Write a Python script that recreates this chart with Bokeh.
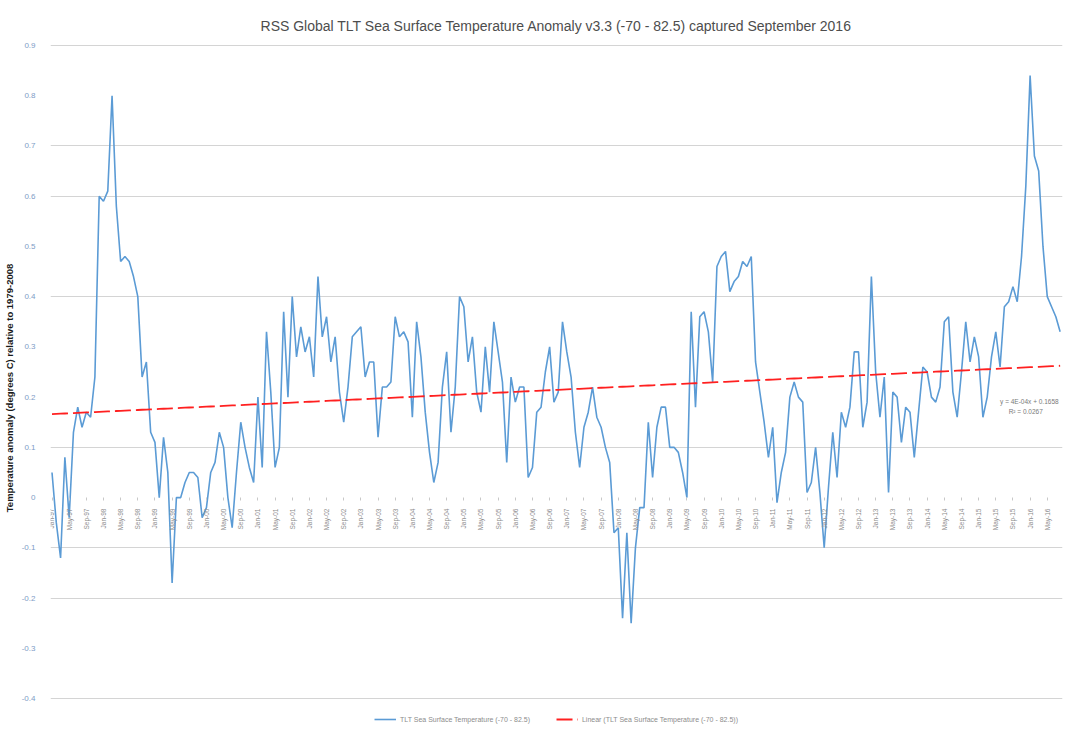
import numpy as np
from bokeh.plotting import figure
from bokeh.models import (ColumnDataSource, LinearAxis, FixedTicker, Grid, Legend, LegendItem,
                          Label, Title, Range1d, CustomJSTickFormatter)
from bokeh.embed import file_html
from bokeh.resources import INLINE

TITLE = "RSS Global TLT Sea Surface Temperature Anomaly v3.3 (-70 - 82.5) captured September 2016"
Y_LABEL = "Temperature anomaly (degrees C) relative to 1979-2008"
SERIES_NAME = "TLT Sea Surface Temperature (-70 - 82.5)"
TREND_NAME = "Linear (TLT Sea Surface Temperature (-70 - 82.5))"

# Monthly anomaly, Jan 1997 .. Aug 2016
anomaly = [
    0.05, -0.05, -0.12, 0.08, -0.04, 0.13, 0.18, 0.14, 0.17, 0.16, 0.24, 0.60,
    0.59, 0.61, 0.80, 0.58, 0.47, 0.48, 0.47, 0.44, 0.40, 0.24, 0.27, 0.13,
    0.11, 0.00, 0.12, 0.05, -0.17, 0.00, 0.00, 0.03, 0.05, 0.05, 0.04, -0.04,
    -0.02, 0.05, 0.07, 0.13, 0.10, 0.00, -0.06, 0.05, 0.15, 0.10, 0.06, 0.03,
    0.20, 0.06, 0.33, 0.21, 0.06, 0.10, 0.37, 0.20, 0.40, 0.28, 0.34, 0.29,
    0.32, 0.24, 0.44, 0.32, 0.36, 0.27, 0.32, 0.21, 0.15, 0.22, 0.32, 0.33,
    0.34, 0.24, 0.27, 0.27, 0.12, 0.22, 0.22, 0.23, 0.36, 0.32, 0.33, 0.31,
    0.16, 0.35, 0.28, 0.17, 0.09, 0.03, 0.07, 0.22, 0.29, 0.13, 0.22, 0.40,
    0.38, 0.27, 0.32, 0.21, 0.17, 0.30, 0.21, 0.35, 0.29, 0.23, 0.07, 0.24,
    0.19, 0.22, 0.22, 0.04, 0.06, 0.17, 0.18, 0.25, 0.30, 0.19, 0.21, 0.35,
    0.29, 0.24, 0.13, 0.06, 0.14, 0.17, 0.22, 0.16, 0.14, 0.10, 0.07, -0.07,
    -0.06, -0.24, -0.07, -0.25, -0.10, -0.02, -0.02, 0.15, 0.04, 0.14, 0.18, 0.18,
    0.10, 0.10, 0.09, 0.05, 0.00, 0.37, 0.18, 0.36, 0.37, 0.33, 0.23, 0.46,
    0.48, 0.49, 0.41, 0.43, 0.44, 0.47, 0.46, 0.48, 0.27, 0.21, 0.15, 0.08,
    0.14, -0.01, 0.05, 0.09, 0.20, 0.23, 0.20, 0.19, 0.01, 0.03, 0.10, 0.01,
    -0.10, 0.02, 0.13, 0.04, 0.17, 0.14, 0.18, 0.29, 0.29, 0.14, 0.19, 0.44,
    0.25, 0.16, 0.24, 0.01, 0.21, 0.20, 0.11, 0.18, 0.17, 0.08, 0.17, 0.26,
    0.25, 0.20, 0.19, 0.22, 0.35, 0.36, 0.21, 0.16, 0.25, 0.35, 0.27, 0.32,
    0.28, 0.16, 0.20, 0.28, 0.33, 0.26, 0.38, 0.39, 0.42, 0.39, 0.48, 0.62,
    0.84, 0.68, 0.65, 0.50, 0.40, 0.38, 0.36, 0.33,
]
start_year = 1997
month_names = ["Jan", "Feb", "Mar", "Apr", "May", "Jun", "Jul", "Aug", "Sep", "Oct", "Nov", "Dec"]
y_ticks = [-0.4, -0.3, -0.2, -0.1, 0.0, 0.1, 0.2, 0.3, 0.4, 0.5, 0.6, 0.7, 0.8, 0.9]
grid_ticks = [0.9, 0.7, 0.6, 0.4, 0.1, -0.1, -0.2, -0.4]

n = len(anomaly)
idx = np.arange(n)
month_labels = [f"{month_names[i % 12]}-{(start_year + i // 12) % 100:02d}" for i in range(n)]
x_ticks = list(range(0, n, 4))

# Excel-style linear trendline (x = 1..n)
xs = np.arange(1, n + 1)
slope, intercept = np.polyfit(xs, anomaly, 1)
fit = slope * xs + intercept
ss_res = np.sum((np.array(anomaly) - fit) ** 2)
ss_tot = np.sum((np.array(anomaly) - np.mean(anomaly)) ** 2)
r2 = 1 - ss_res / ss_tot

src = ColumnDataSource(dict(x=idx, y=anomaly, trend=fit))

FONT = "'Liberation Sans Narrow', 'Liberation Sans', sans-serif"

p = figure(width=1065, height=731, output_backend="svg", toolbar_location=None,
           x_range=Range1d(-0.35, n - 0.45), y_range=Range1d(-0.4657, 0.902),
           x_axis_location=None, y_axis_location=None,
           min_border_left=48, min_border_right=3, min_border_top=44, min_border_bottom=0)
p.outline_line_color = None
p.xgrid.visible = False
p.ygrid.visible = False

t = Title(text=TITLE, align="center", text_font=FONT, text_font_size="14px",
          text_font_style="normal", text_color="#4d4d4d", standoff=21)
p.add_layout(t, "above")

yaxis = LinearAxis(ticker=FixedTicker(ticks=y_ticks),
                   formatter=CustomJSTickFormatter(code="return (Math.round(tick*10)/10).toString()"))
yaxis.axis_line_color = None
yaxis.major_tick_line_color = None
yaxis.minor_tick_line_color = None
yaxis.major_label_text_font = FONT
yaxis.major_label_text_font_size = "8px"
yaxis.major_label_text_color = "#7E9CC6"
yaxis.major_label_standoff = 9
yaxis.axis_label = Y_LABEL
yaxis.axis_label_text_font = FONT
yaxis.axis_label_text_font_size = "9.5px"
yaxis.axis_label_text_font_style = "bold"
yaxis.axis_label_text_color = "#1a1a1a"
yaxis.axis_label_standoff = 4
p.add_layout(yaxis, "left")

grid = Grid(dimension=1, ticker=FixedTicker(ticks=grid_ticks),
            grid_line_color="#d4d4d4", grid_line_width=1)
p.add_layout(grid)

xaxis = LinearAxis(ticker=FixedTicker(ticks=x_ticks), fixed_location=0,
                   major_label_overrides={i: month_labels[i] for i in x_ticks})
xaxis.axis_line_color = None
xaxis.major_tick_line_color = "#c8c8c8"
xaxis.major_tick_in = 0
xaxis.major_tick_out = 3
xaxis.minor_tick_line_color = None
xaxis.major_label_orientation = np.pi / 2
xaxis.major_label_text_font = FONT
xaxis.major_label_text_font_size = "6.5px"
xaxis.major_label_text_color = "#8c8c8c"
xaxis.major_label_standoff = 8
p.add_layout(xaxis, "below")

r_line = p.line("x", "y", source=src, line_color="#5B9BD5", line_width=1.6)
r_trend = p.line("x", "trend", source=src, line_color="#FF2020", line_width=1.8, line_dash="16 5")

eq = Label(x=n - 15, y=0.184, text=f"y = {slope:.0E}x + {intercept:.4f}",
           text_font=FONT, text_font_size="6.5px", text_color="#7a7a7a")
r2l = Label(x=n - 13, y=0.164, text=f"R\u00b2 = {r2:.4f}",
            text_font=FONT, text_font_size="6.5px", text_color="#7a7a7a")
p.add_layout(eq)
p.add_layout(r2l)

legend = Legend(items=[LegendItem(label=SERIES_NAME, renderers=[r_line]),
                       LegendItem(label=TREND_NAME, renderers=[r_trend])],
                location="bottom_center", orientation="horizontal",
                label_text_font=FONT, label_text_font_size="7px", label_text_color="#8c8c8c",
                glyph_width=22, glyph_height=8, spacing=26, padding=2, margin=8,
                border_line_color=None, background_fill_alpha=0,
                label_standoff=4, label_height=8)
p.add_layout(legend)

open("out.html", "w").write(file_html(p, INLINE))
